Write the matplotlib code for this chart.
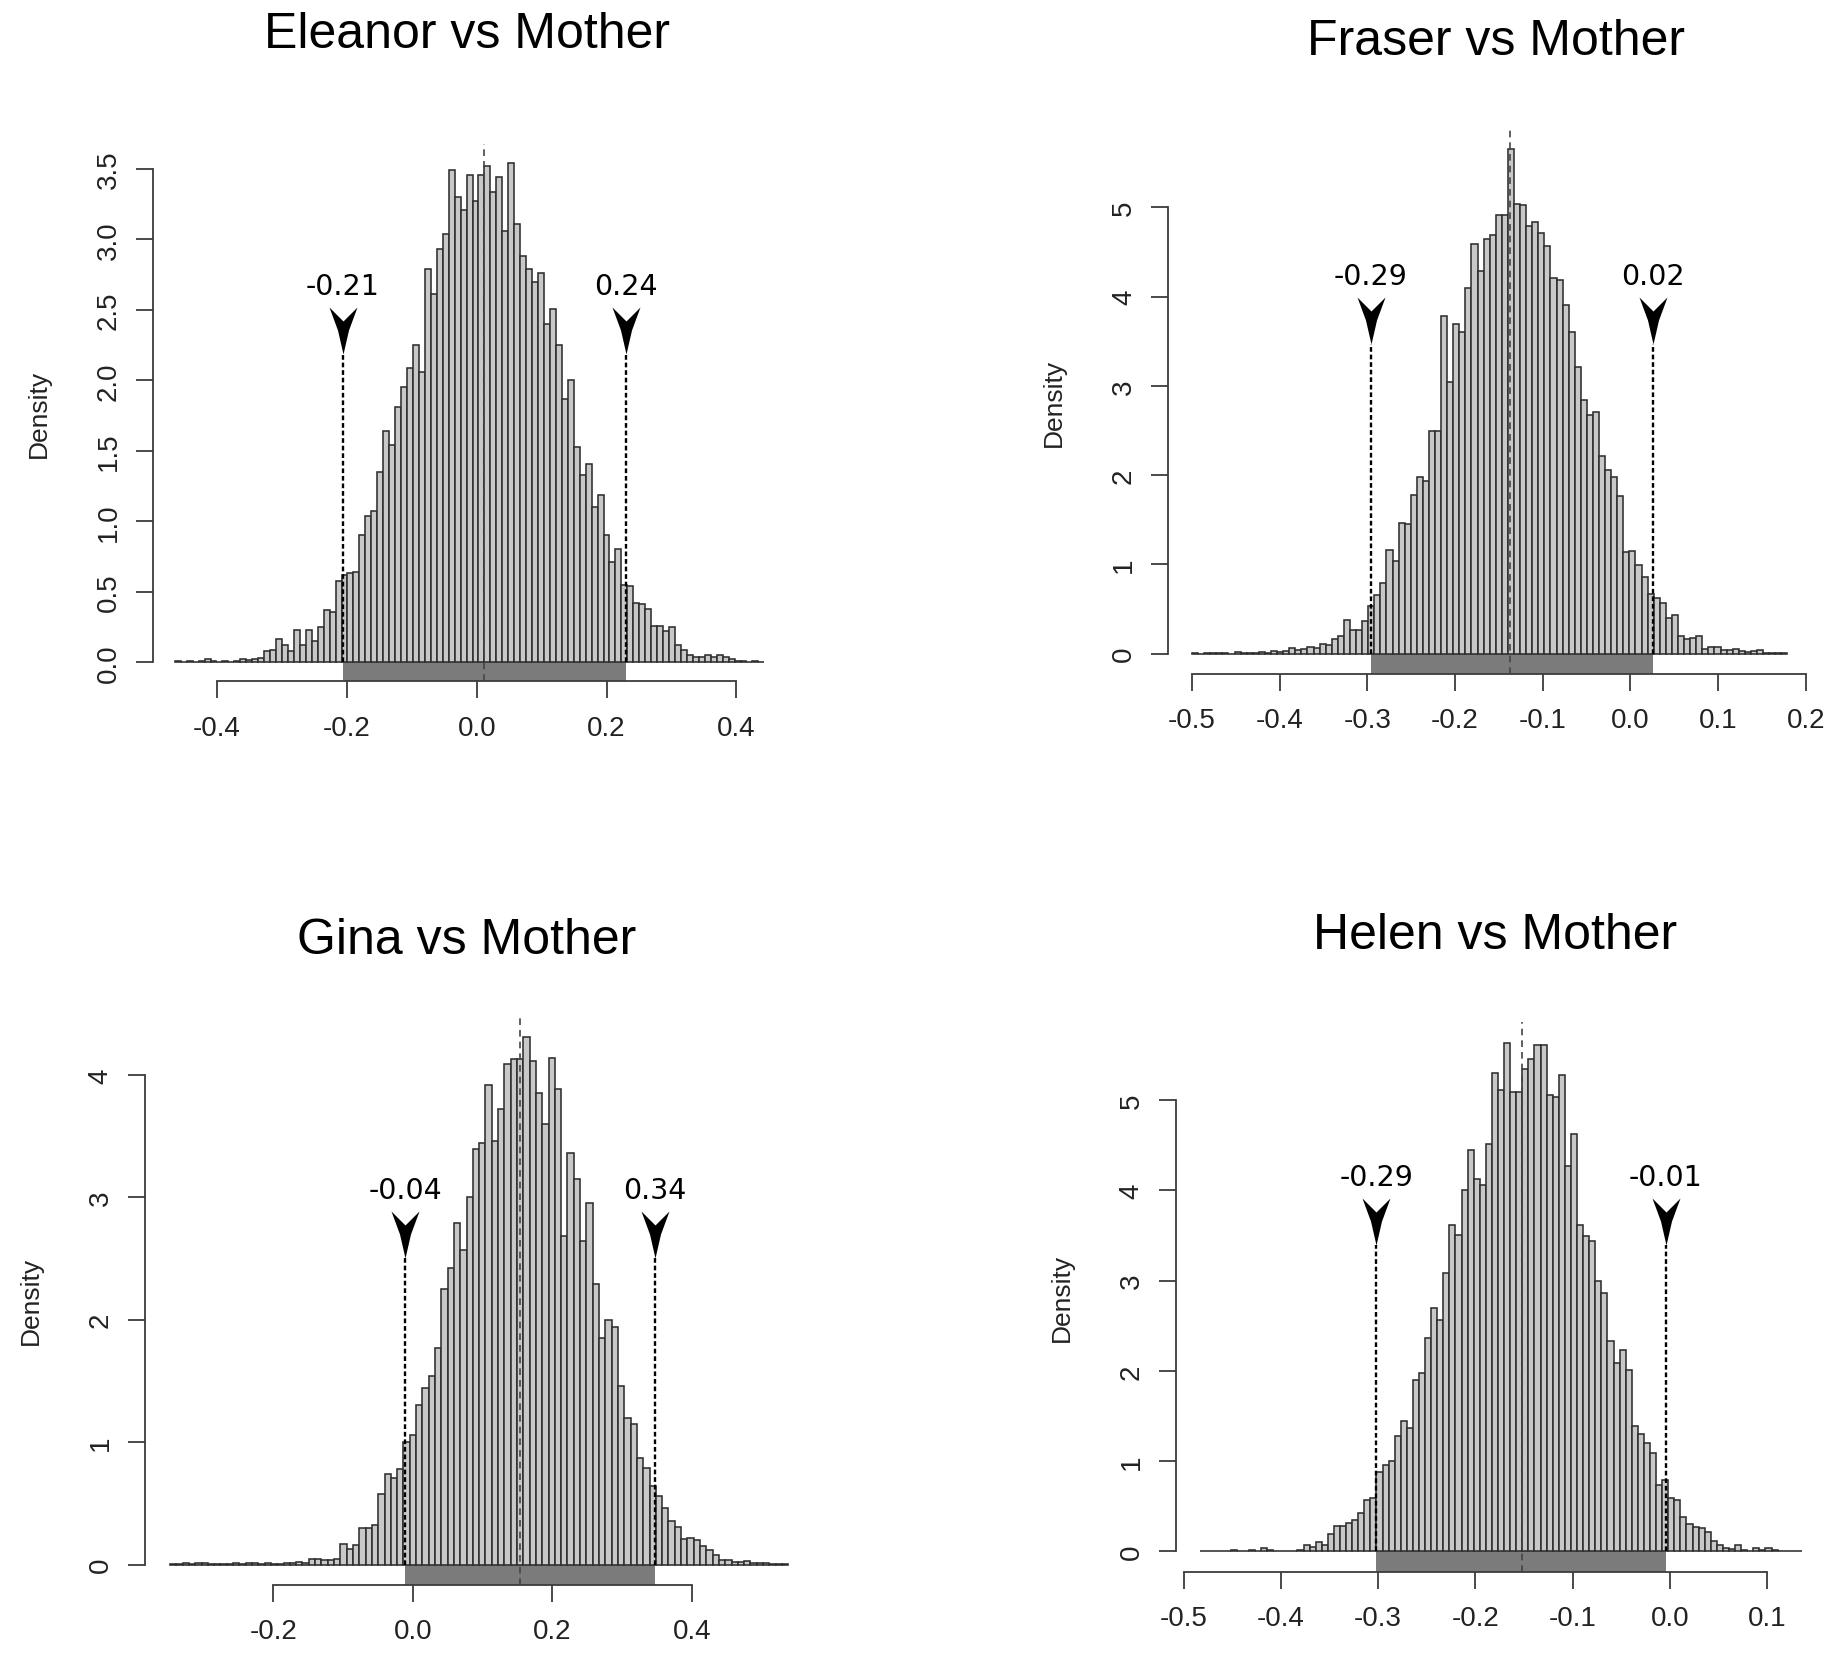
import numpy as np
import matplotlib.pyplot as plt
from matplotlib.path import Path
from matplotlib.patches import Rectangle
from matplotlib.transforms import offset_copy

# posterior densities, one value per histogram bar
eleanor_density = [
    0.01, 0.005, 0.01, 0.005, 0.01, 0.02, 0.01, 0.005, 0.01, 0.005, 0.01, 0.02, 0.015, 0.02, 0.03,
    0.08, 0.09, 0.165, 0.12, 0.08, 0.23, 0.12, 0.23, 0.15, 0.25, 0.37, 0.36, 0.58,
    0.62, 0.63, 0.64, 0.90, 1.04, 1.07, 1.35, 1.64, 1.54, 1.81, 1.95, 2.09, 2.25, 2.06, 2.79, 2.61,
    2.93, 3.04, 3.49, 3.30, 3.21, 3.46,
    3.27, 3.46, 3.52, 3.34, 3.44, 3.06, 3.54, 3.11, 2.88, 2.79, 2.70, 2.76, 2.40, 2.51, 2.25, 1.87,
    2.00, 1.53, 1.33, 1.41, 1.10, 1.19, 0.90, 0.71, 0.80, 0.55, 0.54, 0.42, 0.41, 0.38, 0.26, 0.26,
    0.22, 0.25, 0.12, 0.09, 0.05, 0.04, 0.04, 0.05, 0.04, 0.05, 0.04,
    0.02, 0.01, 0.01, 0.005, 0.01, 0.005,
]
fraser_density = [
    0.005, 0.0, 0.005, 0.005, 0.01, 0.005, 0.0, 0.02, 0.01, 0.005, 0.005, 0.02, 0.005, 0.03, 0.02, 0.03,
    0.06, 0.04, 0.05, 0.08, 0.06, 0.11, 0.10, 0.17, 0.20, 0.38, 0.27, 0.27, 0.37, 0.53, 0.66, 0.79,
    1.16, 1.04, 1.47, 1.45, 1.78, 1.98, 1.93, 2.49, 2.50, 3.78, 3.04, 3.69, 3.60, 4.10, 4.59, 4.29,
    4.65, 4.69, 4.91,
    4.92, 5.66, 5.04, 5.03, 4.79, 4.84, 4.71, 4.57, 4.21, 4.19, 3.91, 3.60, 3.21, 2.84, 2.68, 2.71,
    2.21, 2.06, 1.98, 1.77, 1.14, 1.15, 0.99, 0.86, 0.67, 0.62, 0.57, 0.40, 0.43, 0.20, 0.16, 0.18,
    0.20, 0.05, 0.08, 0.07, 0.04, 0.04, 0.05, 0.03, 0.02, 0.03, 0.04, 0.01, 0.01, 0.005, 0.005,
]
gina_density = [
    0.005, 0.005, 0.01, 0.005, 0.01, 0.015, 0.005, 0.005, 0.005, 0.005, 0.01, 0.005, 0.01, 0.015,
    0.005, 0.01, 0.005, 0.005, 0.01,
    0.01, 0.02, 0.01, 0.045, 0.045, 0.035, 0.035, 0.045, 0.17, 0.13, 0.16, 0.30, 0.30, 0.32, 0.58,
    0.74, 0.71, 0.78, 1.00, 1.06, 1.30, 1.44, 1.54, 1.77, 2.25, 2.42, 2.79,
    2.57, 3.00, 3.39, 3.44, 3.92, 3.46, 3.72, 4.09, 4.13, 4.13, 4.31, 4.11, 3.85, 3.60, 4.14, 3.88,
    2.68, 3.36, 3.15, 2.64, 2.95, 2.29, 1.85, 2.00, 1.94, 1.46, 1.20, 1.15, 0.87, 0.79, 0.64, 0.56,
    0.46, 0.36, 0.31, 0.21, 0.22, 0.20, 0.15, 0.12, 0.08, 0.04, 0.04, 0.02, 0.02, 0.03, 0.01, 0.01,
    0.01, 0.005, 0.005, 0.005,
]
helen_density = [
    0.005, 0.005, 0.01, 0.005, 0.005, 0.02, 0.005, 0.005, 0.02, 0.005, 0.04, 0.02, 0.01, 0.005,
    0.005, 0.01, 0.02,
    0.07, 0.05, 0.10, 0.07, 0.19, 0.28, 0.28, 0.31, 0.35, 0.43, 0.57, 0.59, 0.88, 0.96, 1.00, 1.28,
    1.45, 1.37, 1.90, 1.98, 2.36, 2.70, 2.56, 3.08, 3.62, 3.51, 4.00, 4.45, 4.13, 4.06, 4.51, 5.30,
    5.11,
    5.63, 5.09, 5.09, 5.34, 5.46, 5.61, 5.61, 5.06, 5.04, 5.28, 4.27, 4.62, 3.62, 3.50, 3.44, 3.00,
    2.86, 2.33, 2.09, 2.23, 2.01, 1.39, 1.30, 1.20, 1.09, 0.74, 0.79, 0.59, 0.57, 0.38, 0.30, 0.27,
    0.26, 0.22, 0.12, 0.07, 0.04, 0.03, 0.07, 0.02, 0.01, 0.04, 0.02, 0.04, 0.02, 0.01, 0.005,
    0.005, 0.005,
]

titles = ["Eleanor vs Mother", "Fraser vs Mother", "Gina vs Mother", "Helen vs Mother"]
densities = [eleanor_density, fraser_density, gina_density, helen_density]

# range covered by the bars of each histogram
bar_ranges = [(-0.465, 0.443), (-0.500, 0.179), (-0.348, 0.538), (-0.483, 0.136)]
# posterior mean and interval ends (where the lines are drawn)
means = [0.012, -0.137, 0.153, -0.152]
interval_lo = [-0.206, -0.296, -0.011, -0.302]
interval_hi = [0.230, 0.026, 0.347, -0.004]
# the printed interval labels
label_lo = ["-0.21", "-0.29", "-0.04", "-0.29"]
label_hi = ["0.24", "0.02", "0.34", "-0.01"]
# height of the arrow tips
arrow_tip = [2.19, 3.475, 2.50, 3.39]

x_ticks = [
    [-0.4, -0.2, 0.0, 0.2, 0.4],
    [-0.5, -0.4, -0.3, -0.2, -0.1, 0.0, 0.1, 0.2],
    [-0.2, 0.0, 0.2, 0.4],
    [-0.5, -0.4, -0.3, -0.2, -0.1, 0.0, 0.1],
]
x_tick_labels = [
    ["-0.4", "-0.2", "0.0", "0.2", "0.4"],
    ["-0.5", "-0.4", "-0.3", "-0.2", "-0.1", "0.0", "0.1", "0.2"],
    ["-0.2", "0.0", "0.2", "0.4"],
    ["-0.5", "-0.4", "-0.3", "-0.2", "-0.1", "0.0", "0.1"],
]
y_ticks = [
    [0.0, 0.5, 1.0, 1.5, 2.0, 2.5, 3.0, 3.5],
    [0, 1, 2, 3, 4, 5],
    [0, 1, 2, 3, 4],
    [0, 1, 2, 3, 4, 5],
]
y_tick_labels = [
    ["0.0", "0.5", "1.0", "1.5", "2.0", "2.5", "3.0", "3.5"],
    ["0", "1", "2", "3", "4", "5"],
    ["0", "1", "2", "3", "4"],
    ["0", "1", "2", "3", "4", "5"],
]

# layout of the four plot regions (figure fractions) and their limits
panel_rects = [
    [0.0834, 0.5885, 0.3468, 0.3241],
    [0.6381, 0.5930, 0.3510, 0.3281],
    [0.0791, 0.0437, 0.3648, 0.3429],
    [0.6422, 0.0514, 0.3552, 0.3313],
]
panel_xlim = [(-0.499, 0.479), (-0.527, 0.206), (-0.384, 0.573), (-0.508, 0.161)]
panel_ylim = [(-0.135, 3.678), (-0.225, 5.87), (-0.163, 4.48), (-0.225, 5.86)]
title_pos = [(0.2551, 0.9713), (0.8173, 0.9669), (0.2551, 0.4246), (0.8166, 0.4275)]

DPI = 100
SANS = "Liberation Sans"

# barbed arrow head, tip at the origin (pixel units)
head_verts = [(0, 0), (-5.5, 24), (-14, 47), (0, 33), (14, 47), (5.5, 24), (0, 0)]
head_codes = [Path.MOVETO] + [Path.LINETO] * 5 + [Path.CLOSEPOLY]
ARROW_HEAD = Path(head_verts, head_codes)
HEAD_MS = 2 * 47 * 72 / DPI


def draw_panel(fig, i):
    ax = fig.add_axes(panel_rects[i])
    dens = densities[i]
    edges = np.linspace(bar_ranges[i][0], bar_ranges[i][1], len(dens) + 1)

    ax.bar(edges[:-1], dens, width=np.diff(edges), align="edge",
           color="#c8c8c8", edgecolor="#2e2e2e", linewidth=1.15, zorder=2)

    ax.set_xlim(*panel_xlim[i])
    ax.set_ylim(*panel_ylim[i])
    ybot = panel_ylim[i][0]

    # shaded credible interval under the baseline
    ax.add_patch(Rectangle((interval_lo[i], ybot), interval_hi[i] - interval_lo[i], -ybot,
                           facecolor="#7b7b7b", edgecolor="none", zorder=1, clip_on=False))

    # posterior mean
    ax.axvline(means[i], color="#444444", lw=1.2, ls=(0, (4, 3)), zorder=3)

    # interval arrows and labels
    tip = arrow_tip[i]
    for xv, txt in [(interval_lo[i], label_lo[i]), (interval_hi[i], label_hi[i])]:
        ax.plot([xv, xv], [0, tip], color="black", lw=1.7, ls=(0, (2.0, 1.2)), zorder=4)
        ax.plot([xv], [tip], marker=ARROW_HEAD, ms=HEAD_MS, color="black",
                mew=0, ls="none", zorder=5, clip_on=False)
        ax.annotate(txt, xy=(xv, tip), xytext=(0, 49), textcoords="offset points",
                    ha="center", va="center", fontsize=20.5, family="DejaVu Sans",
                    color="black")

    # R-style detached axes
    for side in ["top", "right"]:
        ax.spines[side].set_visible(False)
    for side in ["left", "bottom"]:
        ax.spines[side].set_color("#3c3c3c")
        ax.spines[side].set_linewidth(1.3)
    ax.spines["bottom"].set_bounds(x_ticks[i][0], x_ticks[i][-1])
    ax.spines["left"].set_bounds(y_ticks[i][0], y_ticks[i][-1])

    ax.set_xticks(x_ticks[i])
    ax.set_xticklabels(x_tick_labels[i], fontsize=20, family=SANS, color="#222222")
    ax.set_yticks(y_ticks[i])
    ax.set_yticklabels(y_tick_labels[i], fontsize=20, family=SANS, color="#222222",
                       rotation=90, va="center")
    ax.tick_params(axis="x", length=12.5, width=1.3, color="#3c3c3c", pad=11.5)
    ax.tick_params(axis="y", length=12.5, width=1.3, color="#3c3c3c", pad=10)

    ylab_tr = offset_copy(ax.transAxes, fig=fig, x=-114, y=0, units="dots")
    ax.text(0, 0.5, "Density", transform=ylab_tr, rotation=90, ha="center", va="center",
            fontsize=19, family=SANS, color="#222222")

    fig.text(title_pos[i][0], title_pos[i][1], titles[i], ha="center", va="baseline",
             fontsize=36, family=SANS, color="black")
    return ax


def main():
    fig = plt.figure(figsize=(18.31, 16.58), dpi=DPI)
    for i in range(4):
        draw_panel(fig, i)
    fig.savefig("out.png", dpi=DPI, facecolor="white")


if __name__ == "__main__":
    main()
